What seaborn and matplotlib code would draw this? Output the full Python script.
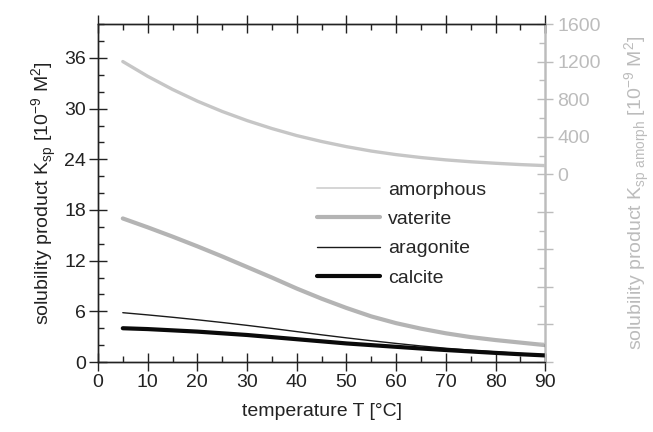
import numpy as np
import pandas as pd
import matplotlib
matplotlib.use("Agg")
import matplotlib.pyplot as plt
import seaborn as sns
from matplotlib.ticker import MultipleLocator, FixedLocator
from matplotlib.lines import Line2D

# Data
temperature = [5, 10, 15, 20, 25, 30, 35, 40, 45, 50, 55, 60, 65, 70, 75, 80, 85, 90]
amorphous = [1202, 1045, 905, 780, 670, 573, 488, 413, 350, 295, 248, 210, 179, 154, 134, 118, 104, 93]  # right axis
vaterite = [17.0, 15.95, 14.85, 13.7, 12.5, 11.25, 10.0, 8.7, 7.5, 6.4, 5.4, 4.6, 3.95, 3.4, 2.95, 2.6, 2.3, 2.0]
aragonite = [5.84, 5.58, 5.3, 5.0, 4.68, 4.34, 3.98, 3.6, 3.22, 2.86, 2.52, 2.2, 1.9, 1.63, 1.4, 1.2, 1.01, 0.85]
calcite = [4.0, 3.9, 3.75, 3.6, 3.4, 3.2, 2.95, 2.7, 2.45, 2.2, 2.0, 1.8, 1.6, 1.42, 1.25, 1.08, 0.92, 0.78]
labels = ["amorphous", "vaterite", "aragonite", "calcite"]

sns.set_style("ticks")
plt.rcParams['font.family'] = ['Liberation Sans', 'DejaVu Sans']

fig = plt.figure(figsize=(6.53, 4.32), dpi=100)
ax = fig.add_axes([0.150, 0.162, 0.685, 0.782])
ax2 = ax.twinx()

grey_light = "#c6c6c6"
grey_mid = "#b4b4b4"
right_col = "#bcbcbc"
dark = "#222222"

df = pd.DataFrame({"T": temperature, "amorphous": amorphous, "vaterite": vaterite,
                   "aragonite": aragonite, "calcite": calcite})

sns.lineplot(data=df, x="T", y="amorphous", ax=ax2, color=grey_light, lw=2.4, legend=False)
sns.lineplot(data=df, x="T", y="vaterite", ax=ax, color=grey_mid, lw=3.0, legend=False)
sns.lineplot(data=df, x="T", y="aragonite", ax=ax, color="#1a1a1a", lw=1.0, legend=False)
sns.lineplot(data=df, x="T", y="calcite", ax=ax, color="#0a0a0a", lw=3.0, legend=False)

ax.set_xlim(0, 90)
ax.set_ylim(0, 40)
ax2.set_ylim(-2000, 1600)

fs = 14
ax.xaxis.set_major_locator(MultipleLocator(10))
ax.xaxis.set_minor_locator(MultipleLocator(5))
ax.yaxis.set_major_locator(FixedLocator([0, 6, 12, 18, 24, 30, 36]))
ax.yaxis.set_minor_locator(MultipleLocator(2))
ax.tick_params(axis='both', which='major', direction='inout', length=13, width=1,
               labelsize=fs, colors=dark, top=True, pad=2)
ax.tick_params(axis='both', which='minor', direction='in', length=4.5, width=1, top=True, colors=dark)
ax.tick_params(axis='x', which='major', labeltop=False)

ticks_r = np.arange(-2000, 1601, 400)
ax2.set_yticks(ticks_r)
ax2.set_yticklabels([str(v) if v >= 0 else "" for v in ticks_r])
ax2.yaxis.set_minor_locator(MultipleLocator(200))
ax2.tick_params(axis='y', which='major', direction='inout', length=11, width=1,
                labelsize=fs, colors=right_col, pad=3)
ax2.tick_params(axis='y', which='minor', direction='in', length=4.5, width=1, colors=right_col)

for sp in ax.spines.values():
    sp.set_linewidth(1)
    sp.set_color(dark)
for name, sp in ax2.spines.items():
    sp.set_linewidth(1)
    sp.set_visible(True)
    sp.set_color(dark)
ax2.spines['right'].set_color(right_col)

ax.set_xlabel("temperature T [°C]", fontsize=fs, color=dark, labelpad=9)
ax.set_ylabel("solubility product K$_{\\mathregular{sp}}$ [10$^{\\mathregular{-9}}$ M$^{\\mathregular{2}}$]",
              fontsize=fs, color=dark, labelpad=4)
ax2.set_ylabel("solubility product K$_{\\mathregular{sp\\ amorph}}$ [10$^{\\mathregular{-9}}$ M$^{\\mathregular{2}}$]",
               fontsize=fs, color=right_col, labelpad=16)

# Legend
handles = [Line2D([], [], color="#d2d2d2", lw=1.3),
           Line2D([], [], color=grey_mid, lw=3.0),
           Line2D([], [], color="#1a1a1a", lw=1.0),
           Line2D([], [], color="#0a0a0a", lw=3.0)]
ax2.legend(handles, labels, loc='center left', bbox_to_anchor=(0.450, 0.379), frameon=False,
           fontsize=fs, handlelength=3.25, handletextpad=0.4, labelspacing=0.6)

fig.savefig("out.png", dpi=100)
